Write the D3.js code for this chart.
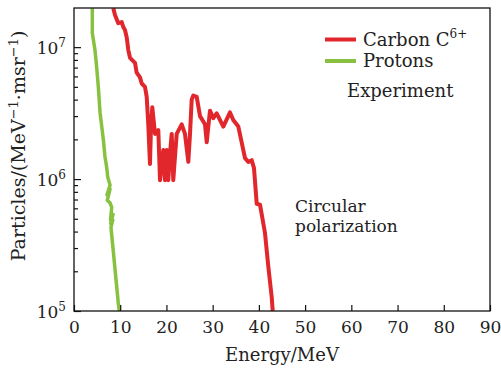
<!DOCTYPE html>
<html><head><meta charset="utf-8">
<script src="https://cdnjs.cloudflare.com/ajax/libs/d3/7.8.5/d3.min.js"></script>
<style>body{margin:0;background:#fff}svg{display:block}text{font-family:"DejaVu Serif",serif;fill:#222}</style>
</head><body><svg id="c" width="501" height="369"></svg>
<script>
// Carbon C6+ spectrum: energy (MeV) and particles per MeV per msr
const carbonE = [8.5,8.87,9.58,10.32,10.67,11.03,11.4,11.75,12.12,13.2,13.56,14.28,14.65,15.36,15.73,16.07,16.44,16.66,16.94,17.53,18.24,18.61,19.32,19.69,20.06,20.4,20.77,21.14,21.48,21.85,22.22,23.3,24.01,24.73,25.1,25.46,25.81,26.55,27.26,28.34,28.71,29.42,30.14,30.87,32.3,33.75,34.46,35.55,37.0,37.71,38.45,38.94,39.53,40.24,41.32,42.04,42.77,42.99];
const carbonN = [1.97e7,1.75e7,1.52e7,1.55e7,1.42e7,1.35e7,1.19e7,9.5e6,8.3e6,7.6e6,6.4e6,5.9e6,5.3e6,5.0e6,4.2e6,2.6e6,1.3e6,2.5e6,3.5e6,2.2e6,2.35e6,9.8e5,1.66e6,9.8e5,1.66e6,9.8e5,1.57e6,2.2e6,9.8e5,1.48e6,2.2e6,2.6e6,2.2e6,1.35e6,2.2e6,4.0e6,4.3e6,4.2e6,3.0e6,2.6e6,1.9e6,3.3e6,2.9e6,3.15e6,2.5e6,3.2e6,2.8e6,2.5e6,1.44e6,1.35e6,1.39e6,1.21e6,6.5e5,6.4e5,3.9e5,2.17e5,1.28e5,1.0e5];
// Protons spectrum
const protonE = [3.96,3.96,4.54,4.91,5.26,5.63,6.34,6.71,7.07,7.29,7.8,7.14,7.8,7.2,7.8,8.16,7.9,8.44,7.95,8.4,8.0,9.58,9.8];
const protonN = [1.97e7,1.28e7,9.5e6,7.0e6,5.0e6,3.2e6,2.0e6,1.47e6,1.23e6,1.04e6,9.0e5,7.6e5,8.4e5,6.9e5,6.6e5,6.1e5,4.9e5,5.4e5,4.6e5,4.9e5,4.3e5,1.15e5,1.0e5];

const xTicks = [0,10,20,30,40,50,60,70,80,90];
const yTicks = [1e5,1e6,1e7];
const yTickExp = ["5","6","7"];
const seriesNames = ["Carbon C", "Protons"];
const seriesColors = ["#e1262c", "#88c140"];

const svg = d3.select("#c");
const m = {l:74, r:11, t:8, b:58};
const W = 501, H = 369;
const x = d3.scaleLinear().domain([0,90]).range([m.l, W-m.r]);
const y = d3.scaleLog().domain([1e5, 1.98e7]).range([H-m.b, m.t]);

svg.append("defs").append("clipPath").attr("id","clip")
  .append("rect").attr("x",m.l).attr("y",m.t).attr("width",W-m.r-m.l).attr("height",H-m.b-m.t);

const line = d3.line().x(d=>x(d[0])).y(d=>y(d[1]));
const carbon = carbonE.map((e,i)=>[e,carbonN[i]]);
const protons = protonE.map((e,i)=>[e,protonN[i]]);
const g = svg.append("g").attr("clip-path","url(#clip)");
g.append("path").datum(protons).attr("d",line).attr("fill","none")
  .attr("stroke",seriesColors[1]).attr("stroke-width",3.5).attr("stroke-linejoin","round");
g.append("path").datum(carbon).attr("d",line).attr("fill","none")
  .attr("stroke",seriesColors[0]).attr("stroke-width",4).attr("stroke-linejoin","round");

// axes
const xa = svg.append("g").attr("transform",`translate(0,${H-m.b})`)
  .call(d3.axisBottom(x).tickValues(xTicks).tickSize(-6).tickFormat(d3.format("d")));
xa.select(".domain").remove();
xa.selectAll("line").attr("stroke","#111").attr("stroke-width",1.2);
xa.selectAll("text").attr("font-size",17).attr("fill","#222").attr("dy","1.1em");

const minor = [];
for (let p=5;p<=7;p++) for (let k=2;k<=9;k++){ const v=k*Math.pow(10,p); if (v<1.98e7) minor.push(v); }
const yaMin = svg.append("g").attr("transform",`translate(${m.l},0)`)
  .call(d3.axisLeft(y).tickValues(minor).tickSize(-4).tickFormat(""));
yaMin.select(".domain").remove();
yaMin.selectAll("line").attr("stroke","#111").attr("stroke-width",1.2);
const yaMaj = svg.append("g").attr("transform",`translate(${m.l},0)`)
  .call(d3.axisLeft(y).tickValues(yTicks).tickSize(-7).tickFormat(""));
yaMaj.select(".domain").remove();
yaMaj.selectAll("line").attr("stroke","#111").attr("stroke-width",1.2);

yTicks.forEach((v,i)=>{
  const t = svg.append("text").attr("x",m.l-8).attr("y",y(v)+7).attr("text-anchor","end").attr("font-size",17);
  t.append("tspan").text("10");
  t.append("tspan").attr("dy",-7).attr("font-size",12).text(yTickExp[i]);
});

// frame
svg.append("rect").attr("x",m.l).attr("y",m.t).attr("width",W-m.r-m.l).attr("height",H-m.b-m.t)
  .attr("fill","none").attr("stroke","#111").attr("stroke-width",1.3);

// axis titles
svg.append("text").attr("x",(m.l+W-m.r)/2).attr("y",361).attr("text-anchor","middle").attr("font-size",18).text("Energy/MeV");
const yl = svg.append("text").attr("transform","translate(25,146) rotate(-90)").attr("text-anchor","middle").attr("font-size",19);
yl.append("tspan").text("Particles/(MeV");
yl.append("tspan").attr("dy",-7).attr("font-size",13).text("−1");
yl.append("tspan").attr("dy",7).text("·msr");
yl.append("tspan").attr("dy",-7).attr("font-size",13).text("−1");
yl.append("tspan").attr("dy",7).text(")");

// legend
const lg = [[39.5, seriesNames[0], "6+"], [61, seriesNames[1], null]];
lg.forEach((d,i)=>{
  svg.append("line").attr("x1",325).attr("x2",356).attr("y1",d[0]).attr("y2",d[0])
    .attr("stroke",seriesColors[i]).attr("stroke-width",4);
  const t = svg.append("text").attr("x",363).attr("y",d[0]+6).attr("font-size",18);
  t.append("tspan").text(d[1]);
  if (d[2]) t.append("tspan").attr("dy",-8).attr("font-size",12).text(d[2]);
});
svg.append("text").attr("x",347).attr("y",97).attr("font-size",18).text("Experiment");
svg.append("text").attr("x",295).attr("y",212).attr("font-size",17).text("Circular");
svg.append("text").attr("x",295).attr("y",232).attr("font-size",17).text("polarization");
</script></body></html>
